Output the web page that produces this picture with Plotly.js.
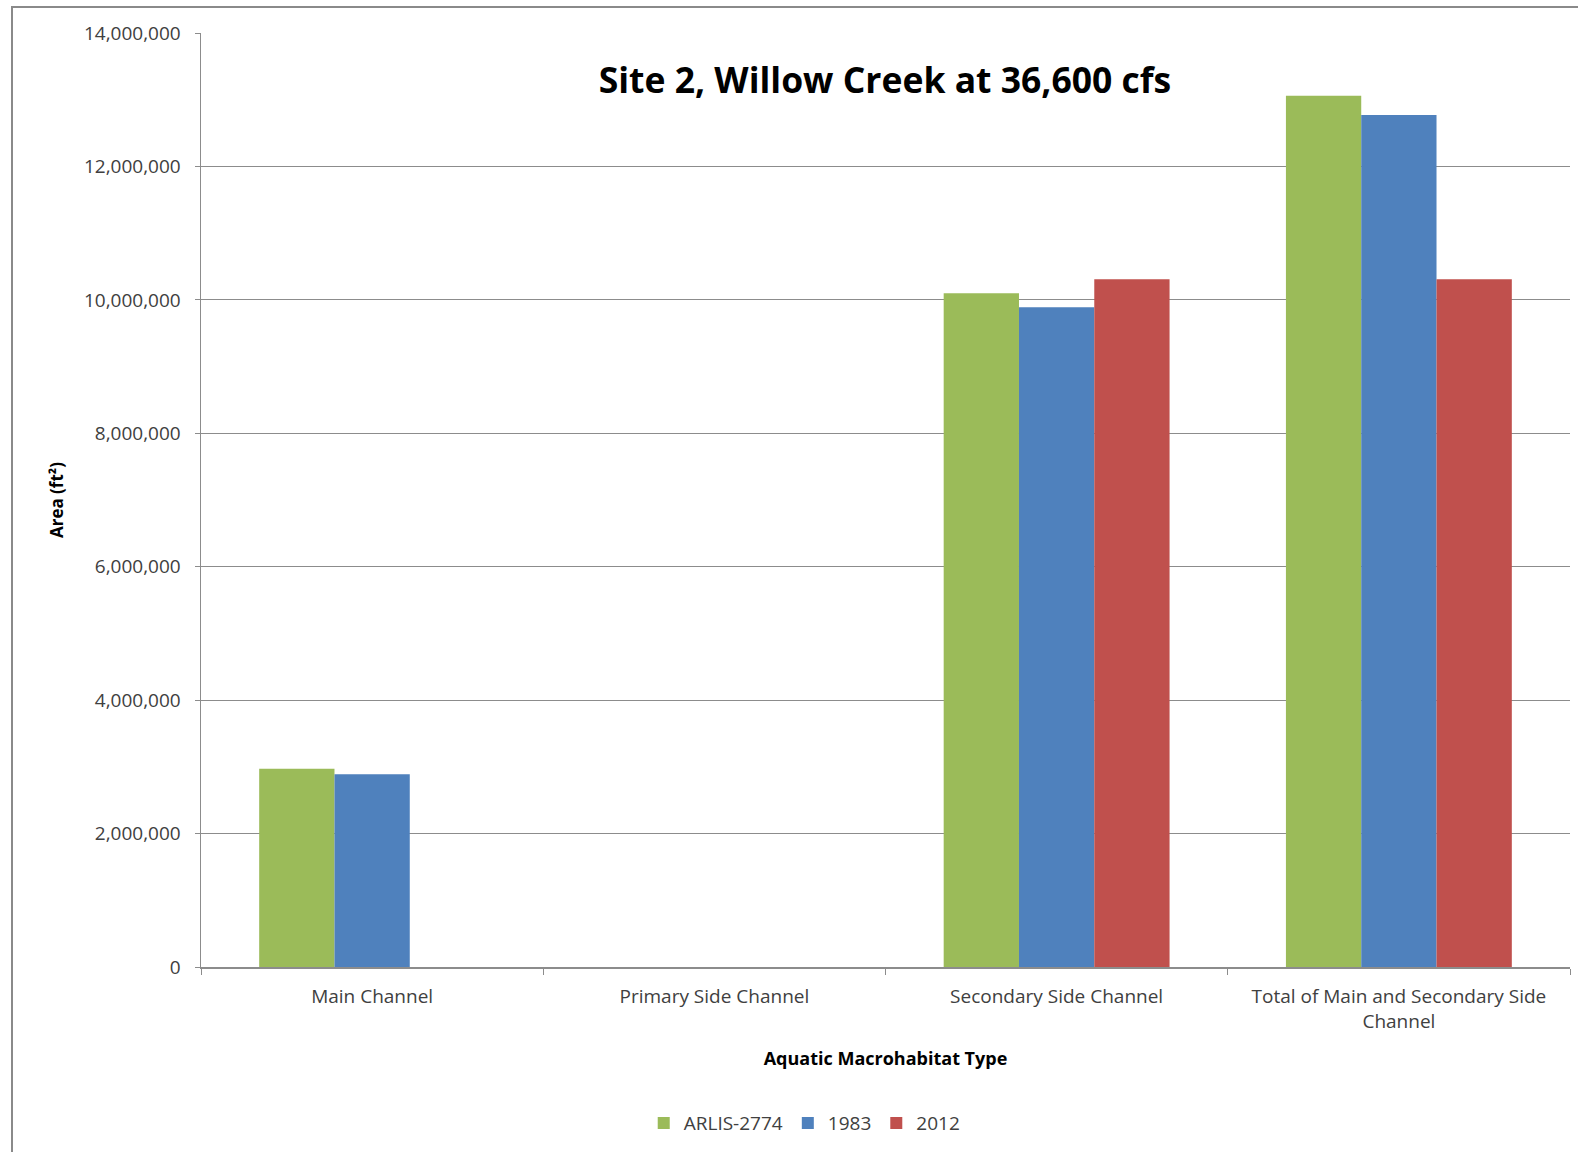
<!DOCTYPE html>
<html>
<head>
<meta charset="utf-8">
<script src="https://cdn.plot.ly/plotly-3.0.1.min.js"></script>
<style>
  html, body { margin: 0; padding: 0; background: #fff; }
  #chart { width: 1578px; height: 1152px; position: relative; }
  #frame { position: absolute; left: 11px; top: 6px; width: 1700px; height: 1300px;
           border-left: 2px solid #8a8a8a; border-top: 2px solid #8a8a8a; pointer-events: none; }
  #wrap { position: relative; width: 1578px; height: 1152px; overflow: hidden; }
</style>
</head>
<body>
<div id="wrap">
  <div id="chart"></div>
  <div id="frame"></div>
</div>
<script>
const categories = ["Main Channel", "Primary Side Channel", "Secondary Side Channel", "Total of Main and Secondary Side<br>Channel"];
const seriesNames = ["ARLIS-2774", "1983", "2012"];
const arlis2774 = [2970000, 0, 10100000, 13060000];
const y1983 = [2890000, 0, 9890000, 12770000];
const y2012 = [0, 0, 10310000, 10310000];
const yTickVals = [0, 2000000, 4000000, 6000000, 8000000, 10000000, 12000000, 14000000];
const yTickText = ["0", "2,000,000", "4,000,000", "6,000,000", "8,000,000", "10,000,000", "12,000,000", "14,000,000"];

const colors = ["#9BBB59", "#4F81BD", "#C0504D"];
const seriesValues = [arlis2774, y1983, y2012];

const traces = seriesValues.map((vals, i) => ({
  type: "bar",
  name: seriesNames[i],
  x: categories,
  y: vals,
  marker: { color: colors[i], line: { width: 0 } },
  hoverinfo: "x+y+name"
}));

const layout = {
  width: 1578,
  height: 1152,
  margin: { l: 201, r: 8, t: 33, b: 185 },
  paper_bgcolor: "#ffffff",
  plot_bgcolor: "#ffffff",
  barmode: "group",
  bargap: 0.34,
  bargroupgap: 0,
  showlegend: true,
  title: {
    text: "<b>Site 2, Willow Creek at 36,600 cfs</b>",
    font: { family: "Open Sans, sans-serif", size: 35.5, color: "#000000" },
    x: 0.4996, xref: "paper", xanchor: "center",
    y: 0.9297, yref: "container", yanchor: "middle"
  },
  xaxis: {
    type: "category",
    showgrid: false,
    showline: true,
    linecolor: "#8c8c8c",
    linewidth: 1.5,
    ticks: "outside",
    tickson: "boundaries",
    ticklen: 6,
    tickcolor: "#8c8c8c",
    tickfont: { family: "Open Sans, sans-serif", size: 19, color: "#404040" },
    ticklabelstandoff: 12,
    title: {
      text: "<b>Aquatic Macrohabitat Type</b>",
      font: { family: "Open Sans, sans-serif", size: 18, color: "#000000" },
      standoff: 19
    }
  },
  yaxis: {
    range: [0, 14000000],
    tickmode: "array",
    tickvals: yTickVals,
    ticktext: yTickText,
    showgrid: true,
    gridcolor: "#8c8c8c",
    gridwidth: 1,
    zeroline: false,
    showline: true,
    linecolor: "#8c8c8c",
    linewidth: 1.5,
    ticks: "outside",
    ticklen: 5,
    tickcolor: "#8c8c8c",
    tickfont: { family: "Open Sans, sans-serif", size: 19, color: "#404040" },
    ticklabelstandoff: 10,
    title: {
      text: "<b>Area (ft²)</b>",
      font: { family: "Open Sans, sans-serif", size: 17, color: "#000000" },
      standoff: 16
    }
  },
  legend: {
    orientation: "h",
    x: 0.441, xref: "paper", xanchor: "center",
    y: 0.025, yref: "container", yanchor: "middle",
    font: { family: "Open Sans, sans-serif", size: 19, color: "#404040" },
    itemwidth: 30,
    traceorder: "normal"
  }
};

Plotly.newPlot("chart", traces, layout, { displayModeBar: false, staticPlot: true });
</script>
</body>
</html>
